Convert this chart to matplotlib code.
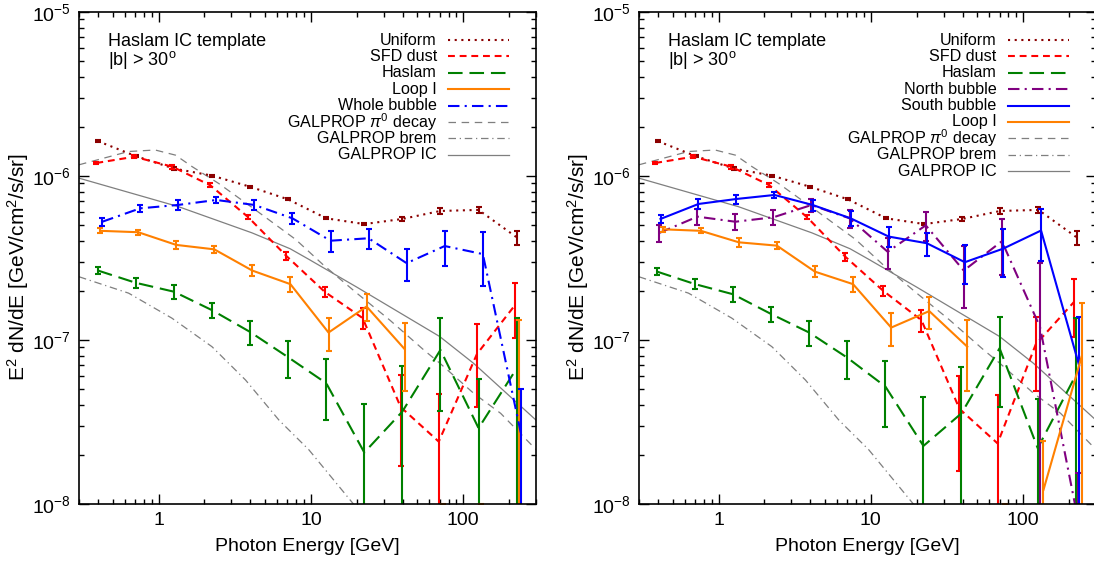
import numpy as np
import matplotlib
matplotlib.use('Agg')
import matplotlib.pyplot as plt
from matplotlib import ticker

plt.rcParams['font.family'] = ['Liberation Sans', 'DejaVu Sans']
plt.rcParams['mathtext.fontset'] = 'custom'
plt.rcParams['mathtext.rm'] = 'Liberation Sans'
plt.rcParams['mathtext.it'] = 'Liberation Sans:italic'
plt.rcParams['mathtext.bf'] = 'Liberation Sans:bold'

# energy bin centres [GeV]
energy = [0.40, 0.71, 1.26, 2.24, 3.98, 7.08, 12.6, 22.4, 39.8, 70.8, 126, 224]

# left panel (whole bubble fit)
uniform = [1.63e-6, 1.32e-6, 1.11e-6, 1.005e-6, 8.6e-7, 7.2e-7, 5.52e-7, 5.09e-7, 5.47e-7, 6.12e-7, 6.21e-7, 4.23e-7]
uniform_err = [2e-8, 2e-8, 2e-8, 1.5e-8, 1.2e-8, 1e-8, 8e-9, 1e-8, 1.5e-8, 2.4e-8, 2.9e-8, 4.1e-8]
sfd_l = [1.2e-6, 1.31e-6, 1.14e-6, 8.77e-7, 5.6e-7, 3.25e-7, 1.97e-7, 1.36e-7, 3.9e-8, 2.4e-8, 8.2e-8, 1.63e-7]
sfd_l_err = [2.5e-8, 2.5e-8, 3e-8, 2.5e-8, 1.5e-8, 1.8e-8, 1.4e-8, 2e-8, 2.2e-8, 2.3e-8, 4.3e-8, 6e-8]
haslam_l = [2.65e-7, 2.23e-7, 1.97e-7, 1.52e-7, 1.12e-7, 7.85e-8, 5.45e-8, 2.06e-8, 3.66e-8, 8.7e-8, 2.9e-8, 6.7e-8]
haslam_l_err = [1.3e-8, 1.5e-8, 1.9e-8, 1.55e-8, 1.9e-8, 2.0e-8, 2.2e-8, 2.0e-8, 3.3e-8, 5.0e-8, 2.85e-8, 7.0e-8]
loop_l = [4.63e-7, 4.54e-7, 3.8e-7, 3.57e-7, 2.65e-7, 2.19e-7, 1.11e-7, 1.6e-7, 8.8e-8, -0.5e-8, -0.5e-8, 6e-8]
loop_l_err = [1.6e-8, 1.6e-8, 2.3e-8, 1.7e-8, 2e-8, 2.4e-8, 2.5e-8, 3e-8, 3.9e-8, 1.5e-8, 1.5e-8, 7.2e-8]
bubble = [5.26e-7, 6.35e-7, 6.66e-7, 7.14e-7, 6.66e-7, 5.52e-7, 4.03e-7, 4.17e-7, 2.94e-7, 3.74e-7, 3.34e-7, 2.7e-8]
bubble_err = [2.8e-8, 3e-8, 4.5e-8, 3.4e-8, 4.3e-8, 4.6e-8, 6e-8, 5.8e-8, 6.5e-8, 9e-8, 1.2e-7, 2.3e-8]

# right panel (north / south bubble fit)
sfd_r = [1.2e-6, 1.31e-6, 1.14e-6, 8.8e-7, 5.6e-7, 3.22e-7, 1.99e-7, 1.32e-7, 3.8e-8, 2.34e-8, 9.4e-8, 1.7e-7]
sfd_r_err = [2.5e-8, 2.5e-8, 3e-8, 2.5e-8, 1.5e-8, 1.8e-8, 1.4e-8, 2e-8, 2.2e-8, 2.3e-8, 4.5e-8, 6.5e-8]
haslam_r = [2.61e-7, 2.19e-7, 1.9e-7, 1.44e-7, 1.11e-7, 7.8e-8, 5.2e-8, 2.26e-8, 3.57e-8, 8.9e-8, 2.19e-8, 6.1e-8]
haslam_r_err = [1.3e-8, 1.5e-8, 1.9e-8, 1.5e-8, 1.9e-8, 2.0e-8, 2.25e-8, 2.25e-8, 3.3e-8, 5.0e-8, 2.2e-8, 7.5e-8]
north = [4.5e-7, 5.65e-7, 5.26e-7, 5.6e-7, 6.65e-7, 5.52e-7, 3.45e-7, 5.0e-7, 2.65e-7, 4.0e-7, 1.2e-7, 8e-9]
north_err = [5.5e-8, 6e-8, 6e-8, 5.6e-8, 6.3e-8, 7e-8, 7.4e-8, 1.0e-7, 1.08e-7, 1.5e-7, 1.76e-7, 7.5e-9]
south = [5.47e-7, 6.75e-7, 7.24e-7, 7.66e-7, 6.66e-7, 5.52e-7, 4.27e-7, 3.89e-7, 2.98e-7, 3.6e-7, 4.65e-7, 7e-8]
south_err = [3.3e-8, 4.6e-8, 4.7e-8, 3.3e-8, 5.1e-8, 6e-8, 6e-8, 6.2e-8, 7.9e-8, 1.17e-7, 1.63e-7, 6.8e-8]
loop_r = [4.73e-7, 4.63e-7, 3.94e-7, 3.76e-7, 2.61e-7, 2.19e-7, 1.19e-7, 1.5e-7, 9.1e-8, -0.5e-8, 1.22e-8, 7.9e-8]
loop_r_err = [1.6e-8, 1.6e-8, 2.3e-8, 1.7e-8, 2e-8, 2.4e-8, 2.7e-8, 3.3e-8, 4.2e-8, 1.5e-8, 1.2e-8, 8.9e-8]

# GALPROP model curves
pi0_e = [0.3, 0.635, 0.95, 1.29, 1.66, 2.48, 4.33, 7.94, 12.1, 20, 33, 55, 70.4, 117, 176, 300]
pi0 = [1.17e-6, 1.41e-6, 1.44e-6, 1.34e-6, 1.14e-6, 9.0e-7, 6.2e-7, 4.1e-7, 2.86e-7, 1.93e-7, 1.32e-7, 8.7e-8, 7.2e-8, 4.73e-8, 3.57e-8, 2.15e-8]
brem_e = [0.3, 0.635, 1.22, 2.24, 3.72, 6.16, 9.69, 19, 25]
brem = [2.43e-7, 1.93e-7, 1.36e-7, 9.1e-8, 5.7e-8, 3.25e-8, 2.14e-8, 1.0e-8, 7e-9]
ic_e = [0.3, 1.35, 4.1, 7.3, 9.7, 20, 55, 70, 117, 176, 300]
ic = [9.7e-7, 6.5e-7, 4.5e-7, 3.6e-7, 3.1e-7, 2.1e-7, 1.2e-7, 1.05e-7, 7.2e-8, 5.1e-8, 3.25e-8]

# styles
DOT = (0, (1, 2.2))
DASH = (0, (3.3, 2.3))
LDASH = (0, (7, 3.3))
DASHDOT = (0, (5.5, 2.5, 1, 2.5))
GREY = '#7f7f7f'
st = {
    'uniform': dict(color='#8b0000', ls=DOT, lw=1.5),
    'sfd': dict(color='#ff0000', ls=DASH, lw=1.5),
    'haslam': dict(color='#008000', ls=LDASH, lw=1.5),
    'loop': dict(color='#ff8000', ls='-', lw=1.5),
    'bubble': dict(color='#0000ff', ls=DASHDOT, lw=1.5),
    'north': dict(color='#800080', ls=DASHDOT, lw=1.5),
    'south': dict(color='#0000ff', ls='-', lw=1.5),
    'pi0': dict(color=GREY, ls=(0, (6, 4.5)), lw=0.9),
    'brem': dict(color=GREY, ls=(0, (6, 3, 1, 3)), lw=0.9),
    'ic': dict(color=GREY, ls='-', lw=0.9),
}


def series(ax, y, err, key, shift):
    x = np.array(energy) * 10 ** shift
    y = np.array(y)
    s = st[key]
    ax.plot(x, np.where(y > 0, y, np.nan), color=s['color'], ls=s['ls'], lw=s['lw'])
    ax.errorbar(x, y, yerr=err, fmt='none', ecolor=s['color'], elinewidth=1.5,
                capsize=2.5, capthick=1.5)


def legend(ax, rows):
    for i, (label, key) in enumerate(rows):
        yy = 0.943 - i * 0.0333
        ax.text(0.783, yy, label, transform=ax.transAxes, ha='right', va='center', fontsize=11.6)
        s = st[key]
        ax.plot([0.807, 0.942], [yy, yy], transform=ax.transAxes, color=s['color'],
                ls=s['ls'], lw=s['lw'], clip_on=False)


def setup(ax):
    ax.set_xscale('log')
    ax.set_yscale('log')
    ax.set_xlim(0.3, 300)
    ax.set_ylim(1e-8, 1e-5)
    ax.plot(pi0_e, pi0, **st['pi0'])
    ax.plot(brem_e, brem, **st['brem'])
    ax.plot(ic_e, ic, **st['ic'])
    ax.xaxis.set_major_formatter(ticker.FuncFormatter(lambda v, p: f'{v:g}'))
    ax.xaxis.set_minor_formatter(ticker.NullFormatter())
    ax.yaxis.set_minor_formatter(ticker.NullFormatter())
    ax.tick_params(which='both', direction='in', top=True, right=True, labelsize=14, width=1)
    ax.tick_params(which='major', length=7, pad=6)
    ax.tick_params(which='minor', length=3.5)
    for sp in ax.spines.values():
        sp.set_linewidth(1.2)
    ax.set_xlabel('Photon Energy [GeV]', fontsize=14, labelpad=6)
    ax.set_ylabel(r'E$^2$ dN/dE [GeV/cm$^2$/s/sr]', fontsize=15)
    ax.yaxis.set_label_coords(-0.105, 0.482)
    ax.text(0.0635, 0.958, 'Haslam IC template\n' + r'|b| > 30$^\mathrm{o}$',
            transform=ax.transAxes, fontsize=13, va='top', linespacing=0.95)


fig = plt.figure(figsize=(10.94, 5.65), dpi=100)
ax1 = fig.add_axes([0.0722, 0.108, 0.4177, 0.8708])
ax2 = fig.add_axes([0.584, 0.108, 0.4177, 0.8708])

setup(ax1)
series(ax1, uniform, uniform_err, 'uniform', 0.0)
series(ax1, sfd_l, sfd_l_err, 'sfd', -0.011)
series(ax1, haslam_l, haslam_l_err, 'haslam', 0.0)
series(ax1, loop_l, loop_l_err, 'loop', 0.015)
series(ax1, bubble, bubble_err, 'bubble', 0.028)
legend(ax1, [('Uniform', 'uniform'), ('SFD dust', 'sfd'), ('Haslam', 'haslam'),
             ('Loop I', 'loop'), ('Whole bubble', 'bubble'),
             (r'GALPROP $\pi^0$ decay', 'pi0'), ('GALPROP brem', 'brem'), ('GALPROP IC', 'ic')])

setup(ax2)
series(ax2, uniform, uniform_err, 'uniform', 0.0)
series(ax2, sfd_r, sfd_r_err, 'sfd', -0.018)
series(ax2, haslam_r, haslam_r_err, 'haslam', -0.005)
series(ax2, north, north_err, 'north', 0.01)
series(ax2, south, south_err, 'south', 0.017)
series(ax2, loop_r, loop_r_err, 'loop', 0.033)
legend(ax2, [('Uniform', 'uniform'), ('SFD dust', 'sfd'), ('Haslam', 'haslam'),
             ('North bubble', 'north'), ('South bubble', 'south'), ('Loop I', 'loop'),
             (r'GALPROP $\pi^0$ decay', 'pi0'), ('GALPROP brem', 'brem'), ('GALPROP IC', 'ic')])

fig.savefig('out.png', dpi=100)
